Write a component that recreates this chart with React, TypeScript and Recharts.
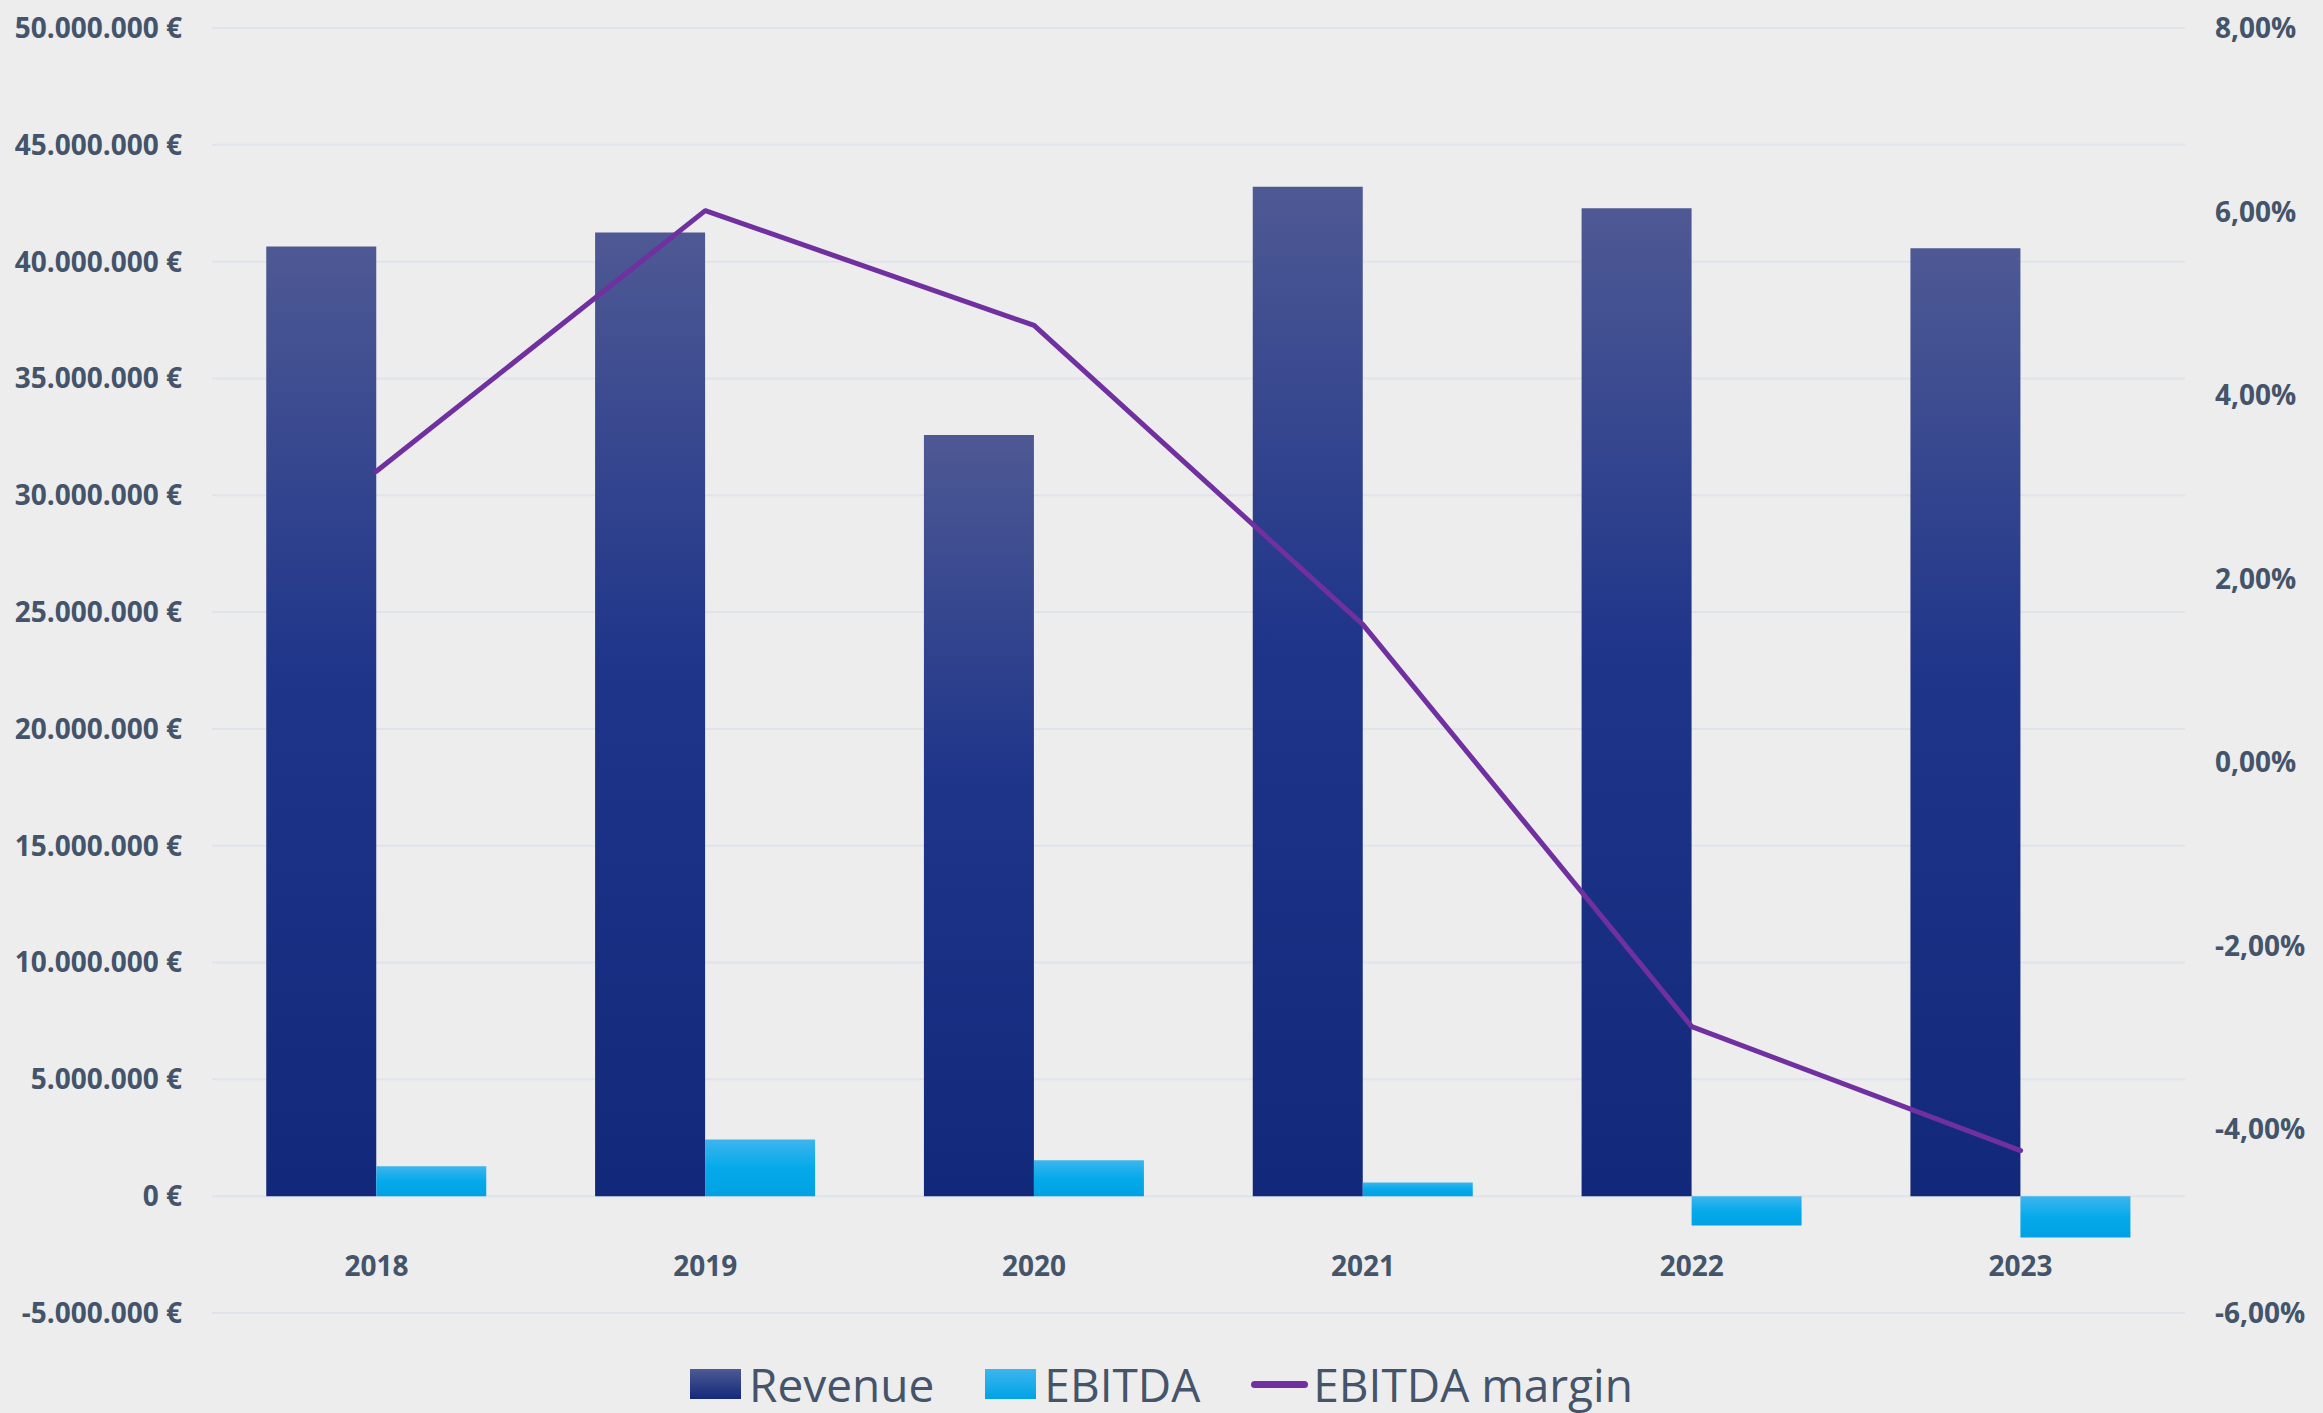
import React from 'react'
import { ComposedChart, Bar, Line, XAxis, YAxis, CartesianGrid, Legend } from 'recharts'

// Werte
const years = ['2018', '2019', '2020', '2021', '2022', '2023']
const revenue = [40650000, 41250000, 32580000, 43210000, 42290000, 40570000]
const ebitda = [1280000, 2430000, 1540000, 590000, -1250000, -1770000]
const ebitdaMargin = [3.17, 6.01, 4.76, 1.5, -2.88, -4.23]

const euroTicks = [
  -5000000, 0, 5000000, 10000000, 15000000, 20000000, 25000000, 30000000, 35000000, 40000000,
  45000000, 50000000,
]
const percentTicks = [-6, -4, -2, 0, 2, 4, 6, 8]

const TEXT = '#44546A'
const FONT = '"Open Sans", "Noto Sans", sans-serif'

const data = years.map((year, i) => ({
  year,
  revenue: revenue[i],
  ebitda: ebitda[i],
  margin: ebitdaMargin[i],
}))

function formatEuro(v: number) {
  const s = Math.abs(v).toString().replace(/\B(?=(\d{3})+(?!\d))/g, '.')
  return (v < 0 ? '-' : '') + s + ' €'
}

function formatPercent(v: number) {
  return v.toFixed(2).replace('.', ',') + '%'
}

// Jahreszahlen sitzen direkt unter der Nulllinie, nicht am unteren Rand
function YearTick(props: any) {
  const { x, y, payload } = props
  return (
    <text
      x={x}
      y={y - 47}
      dy="0.355em"
      textAnchor="middle"
      fill={TEXT}
      fontFamily={FONT}
      fontWeight={700}
      fontSize={28}
    >
      {payload.value}
    </text>
  )
}

function ChartLegend() {
  const items = [
    { name: 'Revenue', kind: 'box', bg: 'linear-gradient(to bottom, #4E5994, #13297B)' },
    { name: 'EBITDA', kind: 'box', bg: 'linear-gradient(to bottom, #3DB5EE, #00A3E6)' },
    { name: 'EBITDA margin', kind: 'line', bg: '#7030A0' },
  ]
  return (
    <div
      style={{
        display: 'flex',
        justifyContent: 'center',
        alignItems: 'center',
        height: 46,
        fontFamily: FONT,
        fontSize: 46,
        lineHeight: '46px',
        color: TEXT,
      }}
    >
      {items.map((it, i) => (
        <div
          key={it.name}
          style={{ display: 'flex', alignItems: 'center', marginRight: i < items.length - 1 ? 51 : 0 }}
        >
          {it.kind === 'box' ? (
            <span style={{ display: 'inline-block', width: 51, height: 30, background: it.bg, marginRight: 8 }} />
          ) : (
            <span
              style={{
                display: 'inline-block',
                width: 57,
                height: 7,
                borderRadius: 4,
                background: it.bg,
                marginRight: 5,
              }}
            />
          )}
          <span>{it.name}</span>
        </div>
      ))}
    </div>
  )
}

export default function App() {
  return (
    <div style={{ position: 'absolute', left: 0, top: 0, width: 2323, height: 1413, background: '#EDEDED' }}>
      <ComposedChart
        width={2323}
        height={1413}
        data={data}
        margin={{ top: 28, right: 0, bottom: 0, left: 0 }}
        barGap={0}
        barCategoryGap="16.5%"
      >
        <defs>
          <linearGradient id="revGrad" x1="0" y1="0" x2="0" y2="1">
            <stop offset="0%" stopColor="#4E5994" />
            <stop offset="45%" stopColor="#1F358A" />
            <stop offset="100%" stopColor="#12287A" />
          </linearGradient>
          <linearGradient id="ebitdaGrad" x1="0" y1="0" x2="0" y2="1">
            <stop offset="0%" stopColor="#3DB5EE" />
            <stop offset="50%" stopColor="#05AAEB" />
            <stop offset="100%" stopColor="#00A1E2" />
          </linearGradient>
        </defs>
        <CartesianGrid yAxisId="left" vertical={false} stroke="#DFE4EA" strokeWidth={2} />
        <XAxis
          dataKey="year"
          height={100}
          axisLine={false}
          tickLine={false}
          tickSize={0}
          tickMargin={0}
          tick={<YearTick />}
          interval={0}
        />
        <YAxis
          yAxisId="left"
          orientation="left"
          width={212}
          domain={[-5000000, 50000000]}
          ticks={euroTicks}
          tickFormatter={formatEuro}
          axisLine={false}
          tickLine={false}
          tickSize={0}
          tickMargin={30}
          tick={{ fill: TEXT, fontFamily: FONT, fontWeight: 700, fontSize: 28 }}
        />
        <YAxis
          yAxisId="right"
          orientation="right"
          width={138}
          domain={[-6, 8]}
          ticks={percentTicks}
          tickFormatter={formatPercent}
          axisLine={false}
          tickLine={false}
          tickSize={0}
          tickMargin={30}
          tick={{ fill: TEXT, fontFamily: FONT, fontWeight: 700, fontSize: 28 }}
        />
        <Legend
          layout="horizontal"
          verticalAlign="middle"
          align="center"
          content={<ChartLegend />}
          wrapperStyle={{ left: 0, top: 1361, width: 2323, height: 46 }}
        />
        <Bar yAxisId="left" dataKey="revenue" name="Revenue" fill="url(#revGrad)" isAnimationActive={false} />
        <Bar yAxisId="left" dataKey="ebitda" name="EBITDA" fill="url(#ebitdaGrad)" isAnimationActive={false} />
        <Line
          yAxisId="right"
          type="linear"
          dataKey="margin"
          name="EBITDA margin"
          stroke="#7030A0"
          strokeWidth={5}
          strokeLinecap="round"
          strokeLinejoin="round"
          dot={false}
          activeDot={false}
          isAnimationActive={false}
        />
      </ComposedChart>
    </div>
  )
}
